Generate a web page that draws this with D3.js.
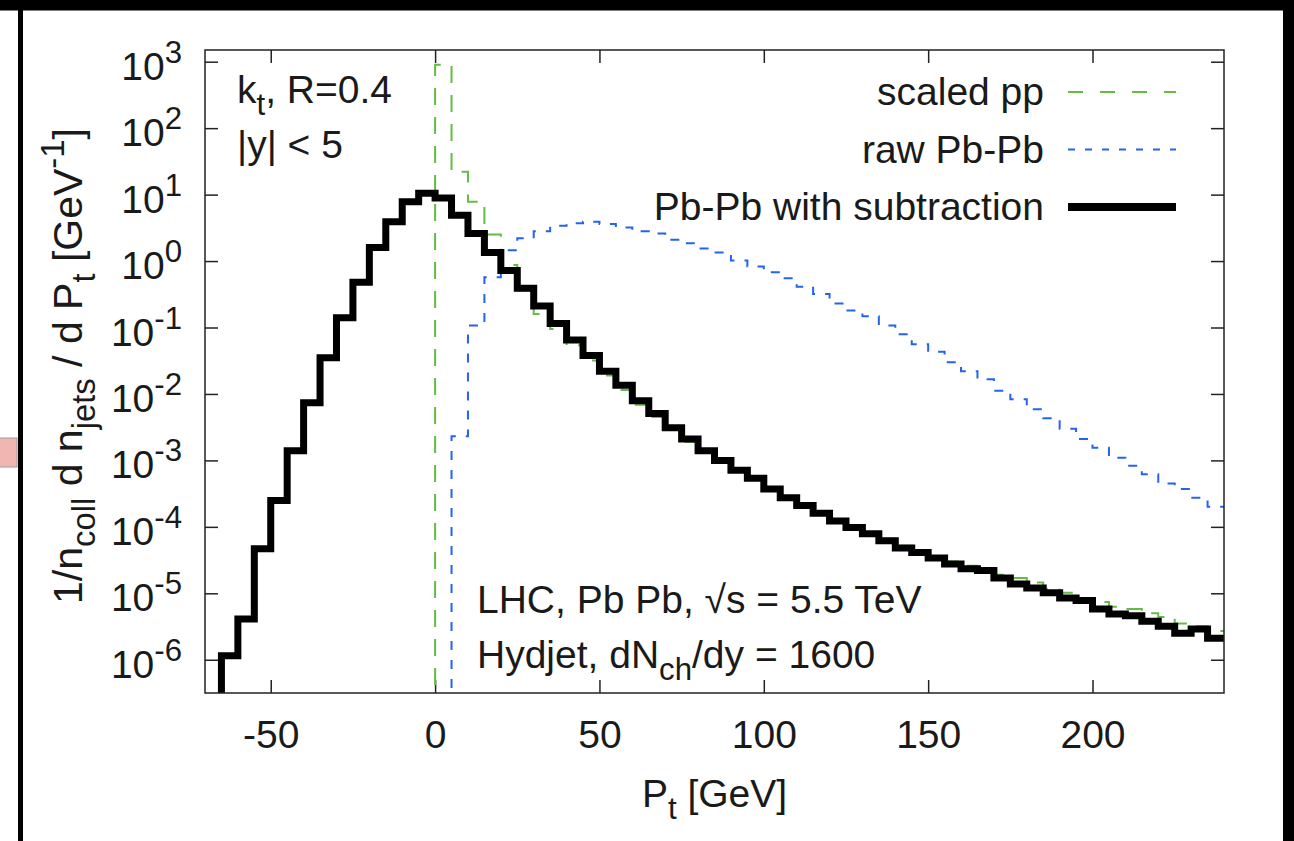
<!DOCTYPE html>
<html>
<head>
<meta charset="utf-8">
<script src="https://cdn.jsdelivr.net/npm/d3@7"></script>
<style>
body { margin: 0; background: #fff; }
svg text { font-family: "Liberation Sans", Arial, Helvetica, sans-serif; fill: #1a1a1a; }
</style>
</head>
<body>
<svg id="chart" width="1294" height="841"></svg>
<script>
// lower edges of the 5 GeV bins
var binWidth = 5;
var ptBins = [-65, -60, -55, -50, -45, -40, -35, -30, -25, -20, -15, -10, -5,
  0, 5, 10, 15, 20, 25, 30, 35, 40, 45, 50, 55, 60, 65, 70, 75, 80, 85, 90, 95,
  100, 105, 110, 115, 120, 125, 130, 135, 140, 145, 150, 155, 160, 165, 170, 175,
  180, 185, 190, 195, 200, 205, 210, 215, 220, 225, 230, 235];

// Pb-Pb with subtraction
var subValues = [1.15e-6, 4.1e-6, 4.7e-5, 2.5e-4, 1.4e-3, 7.4e-3, 3.5e-2, 0.14, 0.48, 1.6, 3.9, 7.8, 10.5,
  8.9, 4.9, 2.6, 1.35, 0.72, 0.39, 0.21, 0.115, 0.065, 0.038, 0.022, 0.0135, 0.0079, 0.0051, 0.0031, 0.0021, 0.0014, 1.0e-3, 7.1e-4, 5.4e-4,
  3.7e-4, 2.75e-4, 2.1e-4, 1.6e-4, 1.23e-4, 9.8e-5, 7.9e-5, 6.2e-5, 4.8e-5, 4.1e-5, 3.4e-5, 2.75e-5, 2.35e-5, 2.2e-5, 1.7e-5, 1.38e-5,
  1.2e-5, 1.02e-5, 8.5e-6, 7.8e-6, 5.8e-6, 4.9e-6, 4.6e-6, 3.8e-6, 3.2e-6, 2.5e-6, 2.9e-6, 2.1e-6];

// scaled pp
var ppValues = [null, null, null, null, null, null, null, null, null, null, null, null, null,
  900, 22, 7.8, 2.5, 0.87, 0.36, 0.16, 0.095, 0.054, 0.032, 0.019, 0.0115, 0.0069, 0.0045, 0.0029, 0.0019, 0.00135, 9.6e-4, 7.0e-4, 5.2e-4,
  3.8e-4, 2.8e-4, 2.15e-4, 1.66e-4, 1.29e-4, 1.02e-4, 8.3e-5, 6.6e-5, 5.2e-5, 4.4e-5, 3.5e-5, 3.0e-5, 2.6e-5, 2.2e-5, 1.9e-5, 1.7e-5,
  1.45e-5, 1.17e-5, 1.02e-5, 8.5e-6, 7.4e-6, 6.3e-6, 5.8e-6, 5.0e-6, 4.4e-6, 3.5e-6, 3.2e-6, 2.7e-6];

// raw Pb-Pb
var rawValues = [null, null, null, null, null, null, null, null, null, null, null, null, null,
  null, 2.3e-3, 0.107, 0.57, 1.45, 2.2, 2.8, 3.4, 3.7, 3.9, 3.6, 3.2, 2.8, 2.6, 2.1, 1.86, 1.55, 1.35, 1.02, 0.83,
  0.68, 0.55, 0.41, 0.32, 0.23, 0.18, 0.148, 0.107, 0.079, 0.056, 0.043, 0.030, 0.022, 0.0166, 0.0112, 0.0083,
  0.0059, 0.0043, 0.0030, 0.0021, 0.00155, 0.0011, 8.3e-4, 6.2e-4, 4.5e-4, 3.7e-4, 2.75e-4, 2.0e-4];

var xTicks = [-50, 0, 50, 100, 150, 200];
var yTicks = [1e-6, 1e-5, 1e-4, 1e-3, 1e-2, 1e-1, 1, 10, 100, 1000];

var svg = d3.select("#chart");
var fs = 39;

// page furniture around the figure
svg.append("rect").attr("x", 0).attr("y", 0).attr("width", 1294).attr("height", 10.5).attr("fill", "#000");
svg.append("rect").attr("x", 18).attr("y", 0).attr("width", 5).attr("height", 841).attr("fill", "#000");
svg.append("rect").attr("x", 1283).attr("y", 0).attr("width", 11).attr("height", 841).attr("fill", "#000");
svg.append("rect").attr("x", -1).attr("y", 438).attr("width", 18).attr("height", 29)
  .attr("fill", "#f2b6b2").attr("stroke", "#9a9a9a").attr("stroke-width", 1);

var pLeft = 205, pRight = 1224, pTop = 50, pBottom = 693;
var x = d3.scaleLinear().domain([-70, 240]).range([pLeft, pRight]);
var y = d3.scaleLog().domain([3.16e-7, 1500]).range([pBottom, pTop]);
var yFloor = 1e-9;

svg.append("clipPath").attr("id", "plotclip")
  .append("rect").attr("x", pLeft).attr("y", pTop).attr("width", pRight - pLeft).attr("height", pBottom - pTop);

// axes with inward ticks on all four sides
var gx = svg.append("g").attr("transform", "translate(0," + pBottom + ")")
  .call(d3.axisBottom(x).tickValues(xTicks).tickSize(-13).tickPadding(27).tickFormat(function(d) { return String(d); }));
svg.append("g").attr("transform", "translate(0," + pTop + ")")
  .call(d3.axisTop(x).tickValues(xTicks).tickSize(-13).tickFormat(""));
var gy = svg.append("g").attr("transform", "translate(" + pLeft + ",0)")
  .call(d3.axisLeft(y).tickValues(yTicks).tickSize(-13).tickPadding(23));
svg.append("g").attr("transform", "translate(" + pRight + ",0)")
  .call(d3.axisRight(y).tickValues(yTicks).tickSize(-13).tickFormat(""));

svg.selectAll(".domain").remove();
svg.selectAll(".tick line").attr("stroke", "#222").attr("stroke-width", 1.5);
gx.attr("font-size", fs);
gy.attr("font-size", fs);
gy.selectAll(".tick text")
  .attr("dy", "0.45em")
  .each(function(d) {
    var t = d3.select(this);
    t.text("10");
    t.append("tspan").attr("font-size", fs * 0.8).attr("dy", -17).text(Math.round(Math.log10(d)));
  });

// rich text helper: parts are [string, "sub"|"sup"|undefined]
function rich(sel, parts, size) {
  var shift = 0;
  parts.forEach(function(p) {
    var target = p[1] === "sub" ? size * 0.32 : p[1] === "sup" ? -size * 0.45 : 0;
    sel.append("tspan")
      .attr("font-size", p[1] ? size * 0.8 : size)
      .attr("dy", target - shift)
      .text(p[0]);
    shift = target;
  });
  return sel;
}

// histograms
function stepPoints(vals) {
  var pts = [];
  vals.forEach(function(v, i) {
    if (v === null) return;
    if (!pts.length) pts.push([ptBins[i], yFloor]);
    pts.push([ptBins[i], v], [ptBins[i] + binWidth, v]);
  });
  return pts;
}
var line = d3.line().x(function(d) { return x(d[0]); }).y(function(d) { return y(d[1]); });

var plot = svg.append("g").attr("clip-path", "url(#plotclip)");
plot.append("path").datum(stepPoints(ppValues)).attr("d", line)
  .attr("fill", "none").attr("stroke", "#64bb45").attr("stroke-width", 2).attr("stroke-dasharray", "17,12");
plot.append("path").datum(stepPoints(rawValues)).attr("d", line)
  .attr("fill", "none").attr("stroke", "#2463f2").attr("stroke-width", 2).attr("stroke-dasharray", "9,10");
plot.append("path").datum(stepPoints(subValues)).attr("d", line)
  .attr("fill", "none").attr("stroke", "#000").attr("stroke-width", 7).attr("stroke-linejoin", "miter");

// frame
svg.append("rect").attr("x", pLeft).attr("y", pTop).attr("width", pRight - pLeft).attr("height", pBottom - pTop)
  .attr("fill", "none").attr("stroke", "#222").attr("stroke-width", 1.5);

// legend
var legend = [
  {label: "scaled pp", color: "#64bb45", width: 2, dash: "15,17"},
  {label: "raw Pb-Pb", color: "#2463f2", width: 2, dash: "7,10"},
  {label: "Pb-Pb with subtraction", color: "#000", width: 8, dash: null}
];
legend.forEach(function(l, i) {
  var ly = 92 + i * 57.5;
  svg.append("text").attr("x", 1044).attr("y", ly + 13).attr("text-anchor", "end")
    .attr("font-size", fs).text(l.label);
  svg.append("line").attr("x1", 1068).attr("x2", 1176).attr("y1", ly).attr("y2", ly)
    .attr("stroke", l.color).attr("stroke-width", l.width).attr("stroke-dasharray", l.dash);
});

// annotations
rich(svg.append("text").attr("x", 237).attr("y", 103), [["k"], ["t", "sub"], [", R=0.4"]], fs);
svg.append("text").attr("x", 237).attr("y", 158).attr("font-size", fs).text("|y| < 5");
svg.append("text").attr("x", 477).attr("y", 613).attr("font-size", fs).text("LHC, Pb Pb, \u221As = 5.5 TeV");
rich(svg.append("text").attr("x", 477).attr("y", 668), [["Hydjet, dN"], ["ch", "sub"], ["/dy = 1600"]], fs);

// axis titles
rich(svg.append("text").attr("x", (pLeft + pRight) / 2).attr("y", 807).attr("text-anchor", "middle"),
  [["P"], ["t", "sub"], [" [GeV]"]], fs);
rich(svg.append("text").attr("text-anchor", "middle").attr("transform", "translate(82,366) rotate(-90)"),
  [["1/n"], ["coll", "sub"], [" d n"], ["jets", "sub"], [" / d P"], ["t", "sub"], [" [GeV"], ["-1", "sup"], ["]"]], 41);
</script>
</body>
</html>
